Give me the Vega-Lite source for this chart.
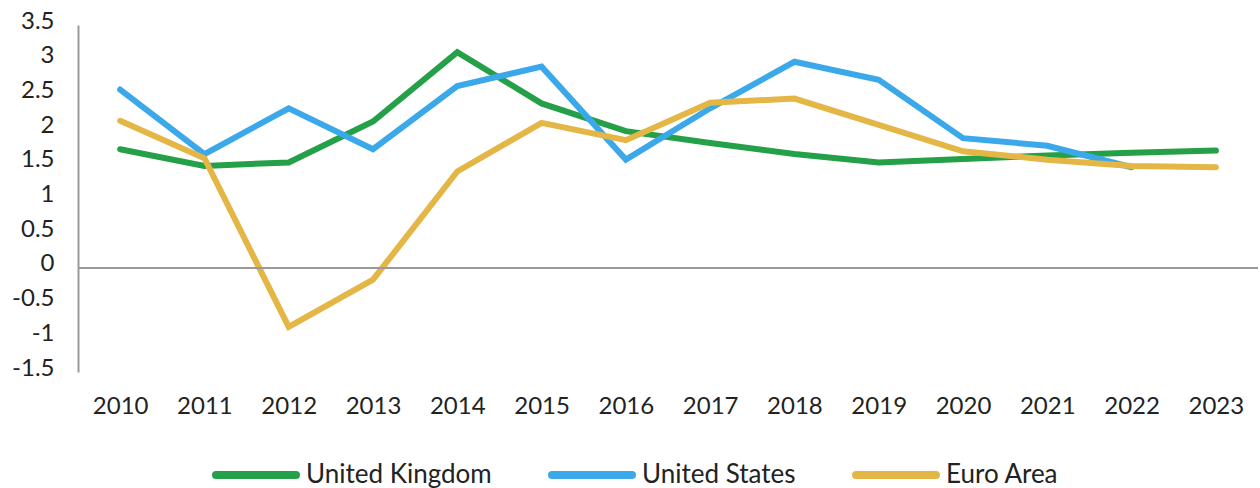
{
  "$schema": "https://vega.github.io/schema/vega-lite/v6.json",
  "width": 1180,
  "height": 347,
  "autosize": {"type": "none"},
  "padding": {"left": 78, "top": 25, "right": 2, "bottom": 116},
  "background": "white",
  "config": {
    "view": {"stroke": null},
    "font": "Lato",
    "axis": {"labelFont": "Lato", "labelFontSize": 24, "labelColor": "#222222", "grid": false, "ticks": false},
    "axisY": {"labelOverlap": false, "domain": true, "domainColor": "#999999", "domainWidth": 2, "labelPadding": 24, "labelOffset": -4}
  },
  "data": {
    "values": [
      {"year": "2010", "series": "United Kingdom", "value": 1.71},
      {"year": "2011", "series": "United Kingdom", "value": 1.47},
      {"year": "2012", "series": "United Kingdom", "value": 1.52},
      {"year": "2013", "series": "United Kingdom", "value": 2.11},
      {"year": "2014", "series": "United Kingdom", "value": 3.11},
      {"year": "2015", "series": "United Kingdom", "value": 2.37},
      {"year": "2016", "series": "United Kingdom", "value": 1.97},
      {"year": "2017", "series": "United Kingdom", "value": 1.80},
      {"year": "2018", "series": "United Kingdom", "value": 1.64},
      {"year": "2019", "series": "United Kingdom", "value": 1.52},
      {"year": "2020", "series": "United Kingdom", "value": 1.57},
      {"year": "2021", "series": "United Kingdom", "value": 1.62},
      {"year": "2022", "series": "United Kingdom", "value": 1.66},
      {"year": "2023", "series": "United Kingdom", "value": 1.69},
      {"year": "2010", "series": "United States", "value": 2.57},
      {"year": "2011", "series": "United States", "value": 1.64},
      {"year": "2012", "series": "United States", "value": 2.30},
      {"year": "2013", "series": "United States", "value": 1.71},
      {"year": "2014", "series": "United States", "value": 2.62},
      {"year": "2015", "series": "United States", "value": 2.90},
      {"year": "2016", "series": "United States", "value": 1.56},
      {"year": "2017", "series": "United States", "value": 2.30},
      {"year": "2018", "series": "United States", "value": 2.97},
      {"year": "2019", "series": "United States", "value": 2.71},
      {"year": "2020", "series": "United States", "value": 1.87},
      {"year": "2021", "series": "United States", "value": 1.76},
      {"year": "2022", "series": "United States", "value": 1.45},
      {"year": "2010", "series": "Euro Area", "value": 2.12},
      {"year": "2011", "series": "Euro Area", "value": 1.58},
      {"year": "2012", "series": "Euro Area", "value": -0.85},
      {"year": "2013", "series": "Euro Area", "value": -0.17},
      {"year": "2014", "series": "Euro Area", "value": 1.39},
      {"year": "2015", "series": "Euro Area", "value": 2.09},
      {"year": "2016", "series": "Euro Area", "value": 1.84},
      {"year": "2017", "series": "Euro Area", "value": 2.38},
      {"year": "2018", "series": "Euro Area", "value": 2.44},
      {"year": "2019", "series": "Euro Area", "value": 2.06},
      {"year": "2020", "series": "Euro Area", "value": 1.68},
      {"year": "2021", "series": "Euro Area", "value": 1.56},
      {"year": "2022", "series": "Euro Area", "value": 1.47},
      {"year": "2023", "series": "Euro Area", "value": 1.45}
    ]
  },
  "layer": [
    {
      "mark": {"type": "line", "strokeWidth": 6, "strokeCap": "round"},
      "encoding": {
        "x": {
          "field": "year", "type": "ordinal",
          "scale": {"type": "point", "padding": 0.5},
          "axis": {"title": null, "domain": false, "labelAngle": 0, "labelPadding": 22}
        },
        "y": {
          "field": "value", "type": "quantitative",
          "scale": {"domain": [-1.5, 3.5], "nice": false, "zero": false},
          "axis": {"title": null, "values": [-1.5, -1, -0.5, 0, 0.5, 1, 1.5, 2, 2.5, 3, 3.5], "format": ".1~f", "labelOverlap": false, "labelExpr": "replace(datum.label, '\u2212', '-')"}
        },
        "color": {
          "field": "series", "type": "nominal",
          "scale": {"domain": ["United Kingdom", "United States", "Euro Area"], "range": ["#24A048", "#3BA9E9", "#E4B645"]},
          "legend": {
            "title": null, "orient": "none", "direction": "horizontal",
            "legendX": 134, "legendY": 406,
            "symbolType": "stroke", "symbolSize": 6400, "symbolStrokeWidth": 8,
            "labelFont": "Lato", "labelFontSize": 26, "labelColor": "#222222", "labelLimit": 400,
            "labelOffset": 6, "columnPadding": 44,
            "symbolOffset": 0,
            "encode": {"symbols": {"update": {"strokeCap": {"value": "round"}}}}
          }
        }
      }
    },
    {
      "mark": {"type": "rule", "color": "#999999", "strokeWidth": 2},
      "encoding": {"y": {"datum": 0, "type": "quantitative", "axis": {"title": null, "values": [-1.5, -1, -0.5, 0, 0.5, 1, 1.5, 2, 2.5, 3, 3.5], "format": ".1~f", "labelOverlap": false, "labelExpr": "replace(datum.label, '\u2212', '-')"}}}
    }
  ]
}
